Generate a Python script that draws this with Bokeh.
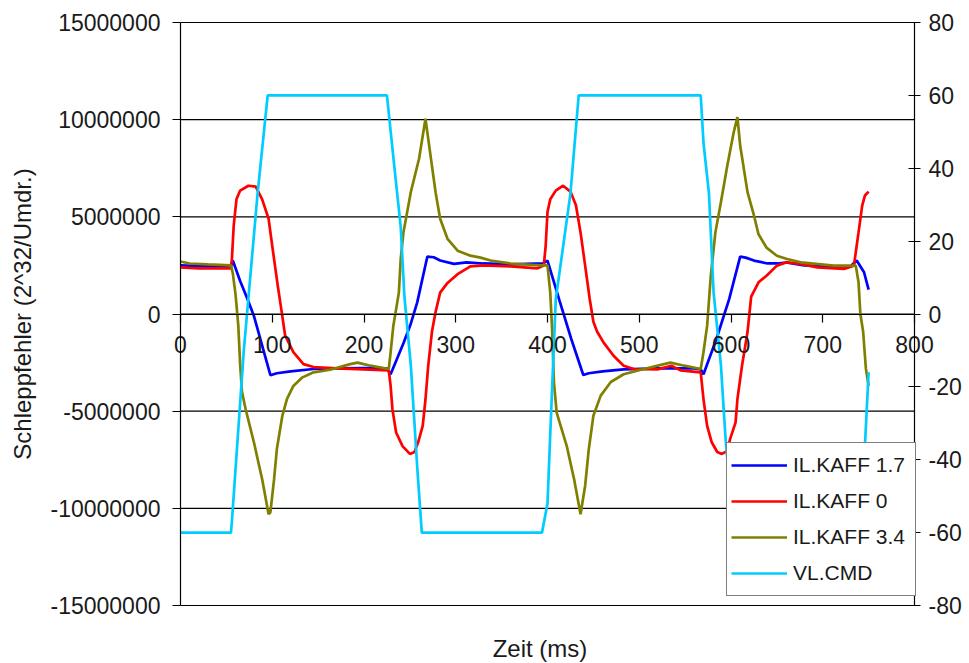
from bokeh.plotting import figure
from bokeh.models import (Range1d, LinearAxis, FixedTicker, Legend, LegendItem,
                          PrintfTickFormatter, ColumnDataSource)
from bokeh.embed import file_html
from bokeh.resources import INLINE

FONT = "Liberation Sans"
TXT = "#1a1a1a"

# ---- data -------------------------------------------------------------
x_ticks = [0, 100, 200, 300, 400, 500, 600, 700, 800]
y_ticks = [-15000000, -10000000, -5000000, 0, 5000000, 10000000, 15000000]
y2_ticks = [-80, -60, -40, -20, 0, 20, 40, 60, 80]

series_names = ["IL.KAFF 1.7", "IL.KAFF 0", "IL.KAFF 3.4", "VL.CMD"]
series_colors = ["#0000FF", "#FF0000", "#808000", "#00CCFF"]

# (time ms, Schleppfehler)
kaff17 = [(0, 2.50e6), (30, 2.45e6), (55, 2.50e6), (57, 2.75e6), (65, 1.70e6), (73, 0.77e6),
          (80, -0.10e6), (90, -1.80e6), (98, -3.15e6), (105, -3.05e6), (120, -2.95e6),
          (145, -2.83e6), (170, -2.80e6), (200, -2.78e6), (225, -2.80e6), (229, -3.10e6),
          (236, -2.30e6), (243, -1.50e6), (251, -0.50e6), (258, 0.60e6), (269, 2.95e6),
          (276, 2.92e6), (283, 2.75e6), (298, 2.58e6), (312, 2.66e6), (330, 2.60e6),
          (360, 2.55e6), (395, 2.60e6), (400, 2.75e6), (413, 0.70e6), (426, -1.30e6),
          (439, -3.14e6), (445, -3.05e6), (460, -2.95e6), (483, -2.85e6), (520, -2.80e6),
          (560, -2.80e6), (567, -2.85e6), (570, -3.10e6), (584, -1.30e6), (598, 0.77e6),
          (610, 2.95e6), (616, 2.90e6), (625, 2.75e6), (640, 2.60e6), (650, 2.60e6),
          (660, 2.65e6), (680, 2.50e6), (700, 2.45e6), (730, 2.45e6), (737, 2.75e6),
          (745, 2.15e6), (750, 1.25e6)]

kaff0 = [(0, 2.40e6), (20, 2.35e6), (40, 2.35e6), (55, 2.35e6), (56, 2.80e6), (58, 4.55e6),
         (61, 5.90e6), (65, 6.35e6), (74, 6.60e6), (82, 6.55e6), (89, 5.90e6), (96, 4.90e6),
         (100, 3.50e6), (106, 1.46e6), (110, 0.20e6), (114, -1.10e6), (123, -1.96e6),
         (134, -2.58e6), (145, -2.73e6), (170, -2.80e6), (200, -2.85e6), (227, -2.90e6),
         (229, -3.70e6), (231, -4.90e6), (235, -6.10e6), (242, -6.80e6), (250, -7.20e6),
         (255, -7.10e6), (259, -6.60e6), (264, -5.76e6), (267, -4.40e6), (270, -2.66e6),
         (274, -0.93e6), (278, 0.10e6), (283, 1.10e6), (291, 1.60e6), (302, 2.05e6),
         (316, 2.45e6), (330, 2.50e6), (360, 2.45e6), (389, 2.35e6), (396, 2.50e6),
         (398, 3.50e6), (400, 5.25e6), (403, 5.90e6), (409, 6.35e6), (417, 6.60e6),
         (425, 6.30e6), (431, 5.60e6), (436, 4.20e6), (441, 2.50e6), (446, 0.77e6),
         (450, -0.40e6), (454, -0.90e6), (461, -1.46e6), (472, -2.15e6), (483, -2.66e6),
         (494, -2.83e6), (520, -2.85e6), (535, -2.66e6), (545, -2.90e6), (567, -3.00e6),
         (570, -4.38e6), (574, -5.76e6), (579, -6.60e6), (585, -7.10e6), (590, -7.20e6),
         (596, -7.05e6), (599, -6.44e6), (605, -5.58e6), (607, -4.38e6), (612, -2.66e6),
         (618, -0.93e6), (622, 0.90e6), (630, 1.63e6), (639, 1.98e6), (650, 2.49e6),
         (661, 2.66e6), (676, 2.58e6), (694, 2.40e6), (723, 2.32e6), (734, 2.49e6),
         (736, 3.18e6), (739, 4.20e6), (743, 5.58e6), (746, 6.10e6), (750, 6.30e6)]

kaff34 = [(0, 2.70e6), (10, 2.60e6), (30, 2.55e6), (55, 2.50e6), (57, 2.10e6), (60, 1.00e6),
          (63, -0.60e6), (65, -2.60e6), (67, -4.00e6), (71, -4.90e6), (80, -6.60e6),
          (89, -8.50e6), (96, -10.30e6), (98, -10.20e6), (102, -8.50e6), (105, -6.96e6),
          (111, -5.24e6), (116, -4.38e6), (123, -3.70e6), (133, -3.26e6), (145, -3.00e6),
          (163, -2.87e6), (185, -2.58e6), (193, -2.50e6), (207, -2.66e6), (227, -2.83e6),
          (229, -1.97e6), (232, -0.60e6), (238, 1.10e6), (240, 2.83e6), (243, 4.20e6),
          (251, 6.27e6), (260, 7.99e6), (267, 10.05e6), (272, 8.33e6), (278, 6.27e6),
          (283, 4.90e6), (291, 3.87e6), (302, 3.26e6), (316, 3.00e6), (327, 2.90e6),
          (338, 2.75e6), (360, 2.60e6), (392, 2.50e6), (400, 2.50e6), (403, 1.10e6),
          (405, -0.75e6), (407, -3.50e6), (410, -5.07e6), (421, -6.80e6), (429, -8.50e6),
          (436, -10.30e6), (441, -8.85e6), (445, -6.96e6), (450, -5.24e6), (458, -4.20e6),
          (469, -3.50e6), (483, -3.10e6), (505, -2.83e6), (527, -2.58e6), (534, -2.50e6),
          (549, -2.66e6), (567, -2.83e6), (570, -1.97e6), (574, -0.60e6), (578, 1.98e6),
          (583, 4.20e6), (589, 5.75e6), (596, 7.64e6), (603, 9.36e6), (607, 10.13e6),
          (610, 8.67e6), (618, 6.27e6), (625, 5.07e6), (630, 4.10e6), (639, 3.40e6),
          (650, 3.00e6), (661, 2.83e6), (676, 2.66e6), (712, 2.49e6), (736, 2.49e6),
          (739, 1.63e6), (741, 0.00e6), (744, -0.90e6), (747, -2.80e6), (750, -3.70e6)]

# (time ms, command value, right axis)
vlcmd = [(0, -60), (55, -60), (56, -57), (69, -10), (84, 33), (95, 60), (225, 60), (232, 43),
         (240, 24), (244, 5), (251, -14), (258, -42), (263, -60), (394, -60), (400, -52),
         (403, -33), (409, 4), (425, 33), (434, 60), (567, 60), (570, 47), (576, 33),
         (581, 6), (589, -14), (594, -34), (603, -60), (735, -60), (746, -36), (750, -16)]

# ---- layout (pixels) ----------------------------------------------------
W, H = 968, 662
PL, PR, PT, PB = 180, 914, 22, 605          # plot-area box inside the canvas
X0, X1 = 0, 800
Y0, Y1 = -15000000, 15000000
R0, R1 = -80, 80

xs = (X1 - X0) / (PR - PL)
ys = (Y1 - Y0) / (PB - PT)
rs = (R1 - R0) / (PB - PT)

p = figure(width=W, height=H, output_backend="svg", toolbar_location=None,
           x_range=Range1d(X0 - PL * xs, X1 + (W - PR) * xs),
           y_range=Range1d(Y0 - (H - PB) * ys, Y1 + PT * ys),
           min_border=0)
p.extra_y_ranges = {"cmd": Range1d(R0 - (H - PB) * rs, R1 + PT * rs)}
p.background_fill_color = "white"
p.border_fill_color = "white"
p.outline_line_color = None
p.xgrid.visible = False
p.ygrid.visible = False

# horizontal grid lines at the left-axis ticks, spanning the plot area only
p.segment(x0=[X0] * len(y_ticks), y0=y_ticks, x1=[X1] * len(y_ticks), y1=y_ticks,
          line_color="black", line_width=1.2)

def style_axis(ax):
    ax.axis_line_color = "black"
    ax.axis_line_width = 1.2
    ax.major_tick_line_color = "black"
    ax.major_tick_line_width = 1.2
    ax.minor_tick_in = 0
    ax.minor_tick_out = 0
    ax.major_label_text_font = FONT
    ax.major_label_text_font_size = "23px"
    ax.major_label_text_color = TXT
    ax.axis_label_text_font = FONT
    ax.axis_label_text_font_size = "24px"
    ax.axis_label_text_font_style = "normal"
    ax.axis_label_text_color = TXT

xa = p.xaxis[0]
style_axis(xa)
xa.ticker = FixedTicker(ticks=x_ticks)
xa.formatter = PrintfTickFormatter(format="%d")
xa.fixed_location = 0
xa.bounds = (X0, X1)
xa.major_tick_in = 0
xa.major_tick_out = 8
xa.major_label_standoff = 14

ya = p.yaxis[0]
style_axis(ya)
ya.ticker = FixedTicker(ticks=y_ticks)
ya.formatter = PrintfTickFormatter(format="%d")
ya.fixed_location = X0
ya.bounds = (Y0, Y1)
ya.major_tick_in = 0
ya.major_tick_out = 8
ya.major_label_standoff = 12
ya.axis_label = "Schleppfehler (2^32/Umdr.)"
ya.axis_label_standoff = 12

ya2 = LinearAxis(y_range_name="cmd", ticker=FixedTicker(ticks=y2_ticks),
                 formatter=PrintfTickFormatter(format="%d"))
style_axis(ya2)
ya2.fixed_location = X1
ya2.bounds = (R0, R1)
ya2.major_tick_in = 6
ya2.major_tick_out = 6
ya2.major_label_standoff = 8
p.add_layout(ya2, "right")

# x-axis title below the plot area
xt = LinearAxis(ticker=FixedTicker(ticks=[]), axis_label="Zeit (ms)")
style_axis(xt)
xt.axis_line_color = None
xt.major_tick_out = 0
xt.major_tick_in = 0
xt.major_label_standoff = 0
xt.fixed_location = Y0
xt.bounds = (X0, 784)
xt.axis_label_standoff = 29
p.add_layout(xt, "below")

renderers = []
for pts, color, rng in [(kaff17, series_colors[0], "default"),
                        (kaff0, series_colors[1], "default"),
                        (kaff34, series_colors[2], "default"),
                        (vlcmd, series_colors[3], "cmd")]:
    src = ColumnDataSource(dict(t=[a for a, b in pts], v=[b for a, b in pts]))
    r = p.line("t", "v", source=src, line_color=color, line_width=2.7,
               y_range_name=rng)
    renderers.append(r)

legend = Legend(items=[LegendItem(label=n, renderers=[r])
                       for n, r in zip(series_names, renderers)],
                location=(726, H - 596), orientation="vertical",
                padding=4, spacing=0, margin=0,
                glyph_width=56, glyph_height=36, label_height=36,
                label_width=118, label_standoff=6,
                label_text_font=FONT, label_text_font_size="21px",
                label_text_color=TXT,
                border_line_color="black", border_line_width=1.2,
                background_fill_color="white", background_fill_alpha=1.0)
p.add_layout(legend, "center")

open("out.html", "w").write(file_html(p, INLINE))
